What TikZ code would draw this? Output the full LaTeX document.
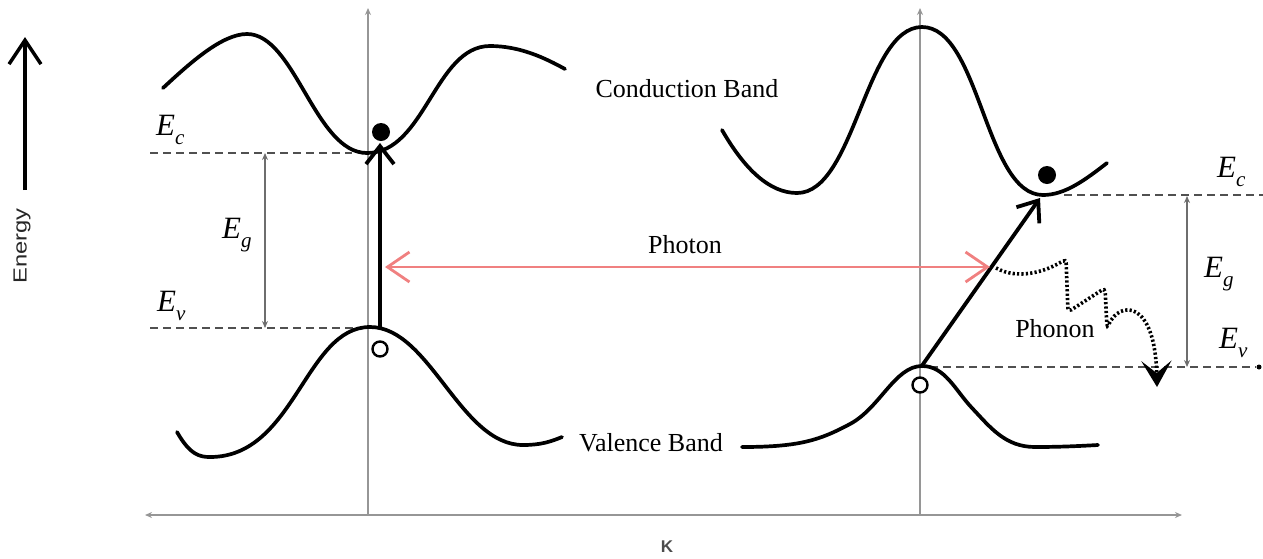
\documentclass[tikz,border=0pt]{standalone}
\usepackage{graphicx}
\usepackage{fontspec}
\setmainfont{Liberation Serif}
\setsansfont{Liberation Sans}
\usetikzlibrary{arrows.meta}
\definecolor{axisgray}{RGB}{150,150,150}
\definecolor{levelgray}{RGB}{80,80,80}
\definecolor{gapgray}{RGB}{110,110,110}
\definecolor{photonred}{RGB}{240,128,128}
\newcommand{\Elab}[1]{{\fontsize{31}{31}\selectfont\itshape E}\raisebox{-9pt}{\fontsize{21}{21}\selectfont\itshape #1}}
\begin{document}
\begin{tikzpicture}[x=1pt,y=-1pt,
  band/.style={line width=3.7pt,line cap=round},
  axisline/.style={axisgray,line width=2pt},
  level/.style={levelgray,line width=1.9pt,dash pattern=on 8pt off 5pt},
  gaparrow/.style={gapgray,line width=1.3pt,{Stealth[length=7pt,width=6pt]}-{Stealth[length=7pt,width=6pt]}},
  transition/.style={line width=3.8pt,-{Straight Barb[length=18pt,width=28pt]}},
  photonarrow/.style={photonred,line width=2.8pt,{Straight Barb[length=22pt,width=30pt]}-{Straight Barb[length=22pt,width=30pt]}},
  phononpath/.style={line width=3.6pt,dash pattern=on 2.2pt off 2.2pt,-{Stealth[length=26pt,width=30pt,inset=12pt]}},
  electron/.style={circle,fill=black,minimum size=18pt,inner sep=0pt},
  hole/.style={circle,draw=black,fill=white,line width=2.4pt,minimum size=15pt,inner sep=0pt},
  lbl/.style={font=\fontsize{26}{26}\selectfont,inner sep=0pt},
  elbl/.style={anchor=base west,inner sep=0pt}
]
\useasboundingbox (0,0) rectangle (1263,558);

% axes
\coordinate (kL) at (145,515); \coordinate (kR) at (1182,515);
\coordinate (aLb) at (368,515); \coordinate (aLt) at (368,8);
\coordinate (aRb) at (920,515); \coordinate (aRt) at (920,8);
\draw[axisline,{Stealth[length=7pt,width=6pt]}-{Stealth[length=7pt,width=6pt]}] (kL) -- (kR);
\draw[axisline,-{Stealth[length=7pt,width=6pt]}] (aLb) -- (aLt);
\draw[axisline,-{Stealth[length=7pt,width=6pt]}] (aRb) -- (aRt);
\node[font=\sffamily\bfseries\fontsize{17}{17}\selectfont,text=black!70] (klabel) at (667,547) {K};

% energy axis
\coordinate (enB) at (25,190); \coordinate (enT) at (25,37);
\draw[line width=3.5pt,-{Straight Barb[length=24pt,width=32pt]}] (enB) -- (enT);
\node[rotate=90,font=\sffamily\fontsize{19}{19}\selectfont,text=black!85] (energy) at (22,246) {\scalebox{1.25}[1]{Energy}};

% levels
\coordinate (ecL1) at (150,153); \coordinate (ecL2) at (352,153);
\coordinate (evL1) at (150,328); \coordinate (evL2) at (357,328);
\draw[level] (ecL1) -- (ecL2);
\draw[level] (evL1) -- (evL2);
\coordinate (ecR1) at (1064,195); \coordinate (ecR2) at (1263,195);
\coordinate (evR1) at (930,367); \coordinate (evR2) at (1256,367);
\draw[level] (ecR1) -- (ecR2);
\draw[level] (evR1) -- (evR2);
\node[circle,fill=black,minimum size=5pt,inner sep=0pt] (evdot) at (1259,367) {};

% gap arrows
\coordinate (gL1) at (265,153); \coordinate (gL2) at (265,328);
\draw[gaparrow] (gL1) -- (gL2);
\coordinate (gR1) at (1187,196); \coordinate (gR2) at (1187,367);
\draw[gaparrow] (gR1) -- (gR2);

% energy labels
\node[elbl] (ecl) at (156,135) {\Elab{c}};
\node[elbl] (egl) at (222,238) {\Elab{g}};
\node[elbl] (evl) at (157,311) {\Elab{v}};
\node[elbl] (ecr) at (1217,177) {\Elab{c}};
\node[elbl] (egr) at (1204,277) {\Elab{g}};
\node[elbl] (evr) at (1219,348) {\Elab{v}};

% bands
\draw[band] (163,88) .. controls (190,63) and (222,34) .. (247,34)
  .. controls (295,34) and (315,153) .. (367,153)
  .. controls (425,153) and (435,46) .. (490,46)
  .. controls (520,46) and (545,58) .. (565,69);
\draw[band] (177,432) .. controls (190,455) and (200,457) .. (210,457)
  .. controls (295,457) and (305,327) .. (370,327)
  .. controls (430,327) and (460,445) .. (523,445)
  .. controls (540,445) and (550,442) .. (562,437);
\draw[band] (722,130) .. controls (745,170) and (770,193) .. (797,193)
  .. controls (855,193) and (865,27) .. (922,27)
  .. controls (980,27) and (985,195) .. (1043,195)
  .. controls (1065,195) and (1085,180) .. (1107,163);
\draw[band] (742,447) .. controls (800,447) and (820,440) .. (850,424)
  .. controls (880,408) and (895,366) .. (922,366)
  .. controls (945,366) and (955,390) .. (972,408)
  .. controls (990,427) and (1005,447) .. (1035,447)
  .. controls (1060,447) and (1080,446) .. (1098,445);

% transitions
\coordinate (tL1) at (380,328); \coordinate (tL2) at (380,143);
\draw[transition] (tL1) -- (tL2);
\coordinate (tR1) at (921,367); \coordinate (tR2) at (1040,198);
\draw[transition] (tR1) -- (tR2);

% photon
\coordinate (ph1) at (385,267); \coordinate (ph2) at (990,267);
\draw[photonarrow] (ph1) -- (ph2);
\node[lbl] (photon) at (685,245) {Photon};

% phonon
\coordinate (pn1) at (996,268); \coordinate (pn2) at (1157,387);
\draw[phononpath,rounded corners=4pt] (pn1) .. controls (1018,280) and (1045,272) .. (1066,259) -- (1068,312) -- (1105,288) -- (1107,328) .. controls (1120,300) and (1155,300) .. (pn2);
\node[lbl] (phonon) at (1055,329) {Phonon};

% carriers
\node[electron] (eL) at (381,132) {};
\node[electron] (eR) at (1047,175) {};
\node[hole] (hL) at (380,349) {};
\node[hole] (hR) at (920,385) {};

% band names
\node[lbl] (cband) at (687,89) {Conduction Band};
\node[lbl] (vband) at (651,443) {Valence Band};
\end{tikzpicture}
\end{document}
